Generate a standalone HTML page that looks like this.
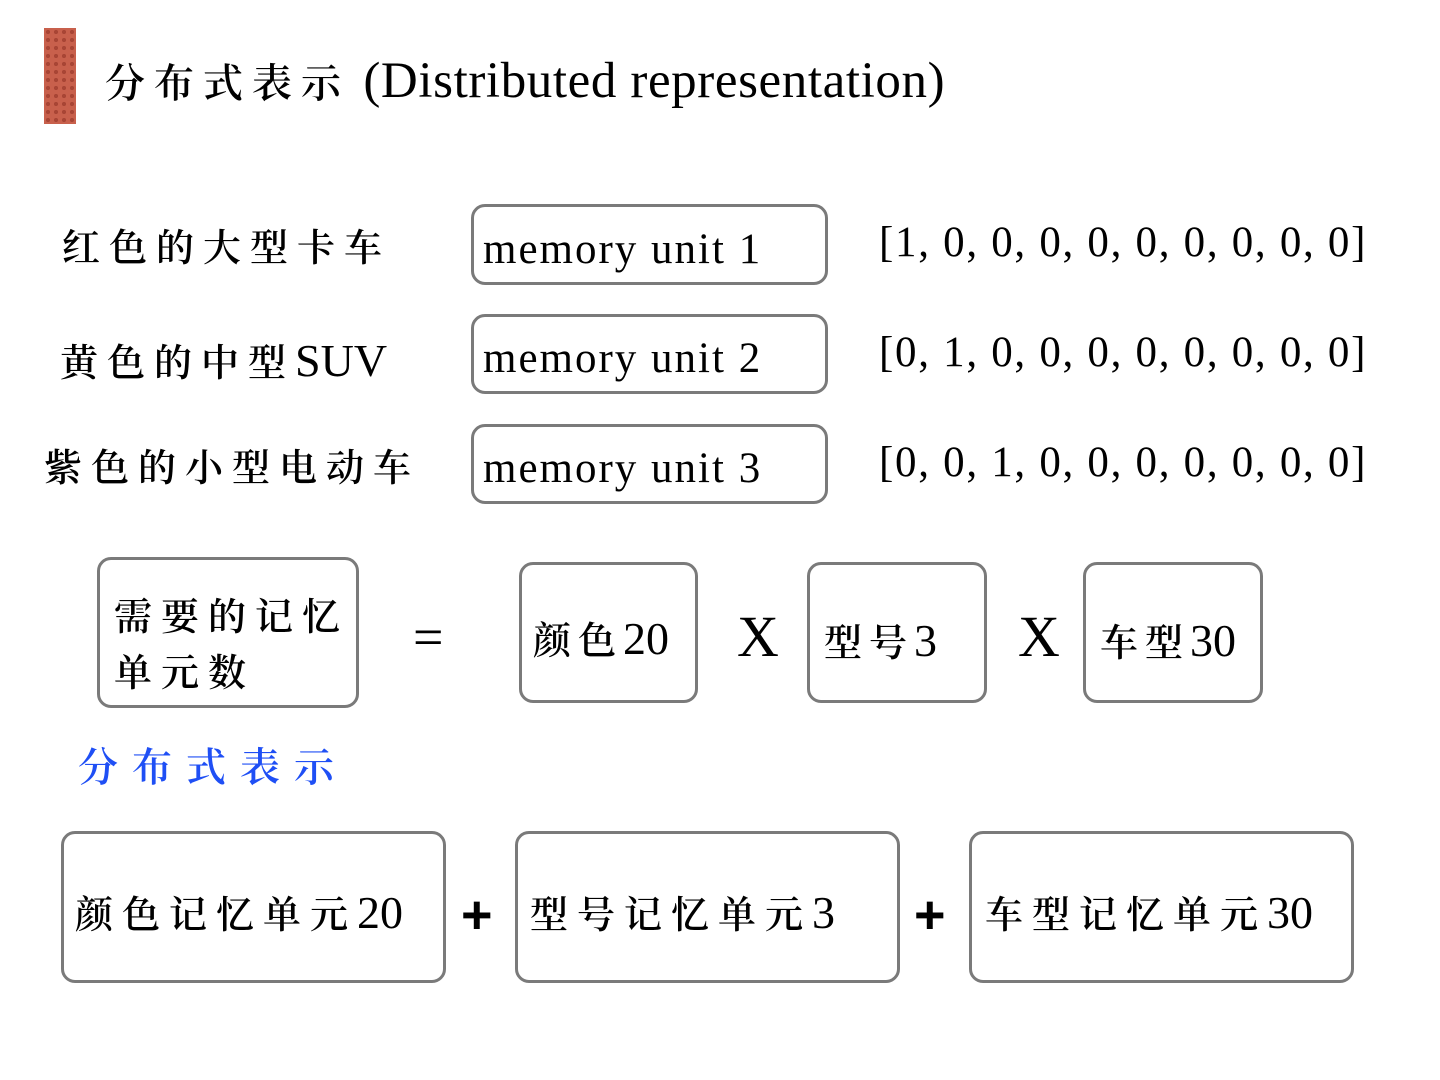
<!DOCTYPE html>
<html><head><meta charset="utf-8"><style>
body{margin:0;width:1440px;height:1080px;background:#fff;position:relative;overflow:hidden;font-family:"Liberation Serif","Noto Serif CJK SC",serif;color:#000}
.a{position:absolute;white-space:nowrap;line-height:1}
.box{position:absolute;border:3px solid #7a7a7a;border-radius:14px;box-sizing:border-box;background:#fff}
.cj{letter-spacing:9px;font-weight:600}
.c{font-weight:600}
.n{font-family:"Liberation Serif",serif}
</style></head><body>
<div style="position:absolute;left:44px;top:28px;width:32px;height:96px;background-color:#c8604c;background-image:radial-gradient(circle,#a84535 35%,transparent 40%);background-size:8px 8px"></div>
<div class="a" style="left:105px;top:56px;font-size:40px"><span class="cj">分布式表示</span><span class="n" style="font-size:51px;letter-spacing:0.6px"> (Distributed representation)</span></div>

<div class="a cj" style="left:62px;top:230px;font-size:38px">红色的大型卡车</div>
<div class="a" style="left:60px;top:338px;font-size:38px"><span class="cj">黄色的中型</span><span class="n" style="font-size:46px">SUV</span></div>
<div class="a cj" style="left:44px;top:450px;font-size:38px">紫色的小型电动车</div>

<div class="box" style="left:471px;top:204px;width:357px;height:81px"></div>
<div class="box" style="left:471px;top:314px;width:357px;height:80px"></div>
<div class="box" style="left:471px;top:424px;width:357px;height:80px"></div>
<div class="a n" style="left:483px;top:228px;font-size:43px;letter-spacing:2px">memory unit 1</div>
<div class="a n" style="left:483px;top:337px;font-size:43px;letter-spacing:2px">memory unit 2</div>
<div class="a n" style="left:483px;top:447px;font-size:43px;letter-spacing:2px">memory unit 3</div>

<div class="a n" style="left:879px;top:221px;font-size:43px;letter-spacing:1.7px">[1, 0, 0, 0, 0, 0, 0, 0, 0, 0]</div>
<div class="a n" style="left:879px;top:331px;font-size:43px;letter-spacing:1.7px">[0, 1, 0, 0, 0, 0, 0, 0, 0, 0]</div>
<div class="a n" style="left:879px;top:441px;font-size:43px;letter-spacing:1.7px">[0, 0, 1, 0, 0, 0, 0, 0, 0, 0]</div>

<div class="box" style="left:97px;top:557px;width:262px;height:151px"></div>
<div class="a cj" style="left:114px;top:590px;font-size:38px;line-height:56px">需要的记忆<br>单元数</div>
<div class="a n" style="left:413px;top:610px;font-size:54px">=</div>

<div class="box" style="left:519px;top:562px;width:179px;height:141px"></div>
<div class="a" style="left:533px;top:616px;font-size:38px"><span class="c" style="letter-spacing:7px">颜色</span><span class="n" style="font-size:46px">20</span></div>
<div class="a n" style="left:737px;top:608px;font-size:58px">X</div>
<div class="box" style="left:807px;top:562px;width:180px;height:141px"></div>
<div class="a" style="left:824px;top:618px;font-size:38px"><span class="c" style="letter-spacing:7px">型号</span><span class="n" style="font-size:46px">3</span></div>
<div class="a n" style="left:1018px;top:608px;font-size:58px">X</div>
<div class="box" style="left:1083px;top:562px;width:180px;height:141px"></div>
<div class="a" style="left:1100px;top:618px;font-size:38px"><span class="c" style="letter-spacing:7px">车型</span><span class="n" style="font-size:46px">30</span></div>

<div class="a cj" style="left:78px;top:748px;font-size:40px;color:#1f4ff5;letter-spacing:14px">分布式表示</div>

<div class="box" style="left:61px;top:831px;width:385px;height:152px"></div>
<div class="a" style="left:75px;top:890px;font-size:38px"><span class="c" style="letter-spacing:9px">颜色记忆单元</span><span class="n" style="font-size:46px">20</span></div>
<div class="a" style="left:461px;top:888px;font-size:54px;font-family:'Liberation Sans',sans-serif;font-weight:bold">+</div>
<div class="box" style="left:515px;top:831px;width:385px;height:152px"></div>
<div class="a" style="left:530px;top:890px;font-size:38px"><span class="c" style="letter-spacing:9px">型号记忆单元</span><span class="n" style="font-size:46px">3</span></div>
<div class="a" style="left:914px;top:888px;font-size:54px;font-family:'Liberation Sans',sans-serif;font-weight:bold">+</div>
<div class="box" style="left:969px;top:831px;width:385px;height:152px"></div>
<div class="a" style="left:985px;top:890px;font-size:38px"><span class="c" style="letter-spacing:9px">车型记忆单元</span><span class="n" style="font-size:46px">30</span></div>
</body></html>
